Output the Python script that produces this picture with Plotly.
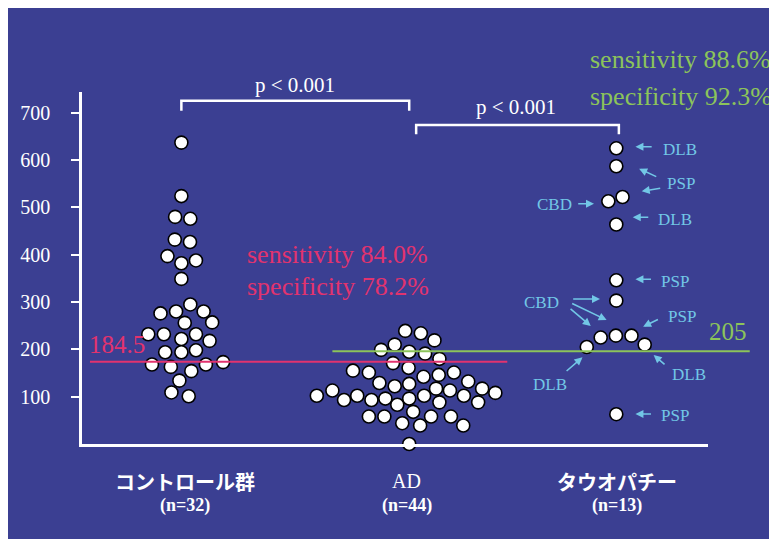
import plotly.graph_objects as go

# ---------------- data ----------------
group_names = ["コントロール群", "AD", "タウオパチー"]
group_n = ["(n=32)", "(n=44)", "(n=13)"]
group_centers = [1.0, 3.293, 5.377]

control_values = [637, 524, 480, 476, 432, 427, 397, 382, 388, 349, 295, 276, 280, 280,
                  256, 257, 232, 232, 232, 222, 218, 194, 194, 198, 168, 163, 168, 173,
                  154, 134, 109, 101]
control_jitter = [0, 0, -0.063, 0.09, -0.066, 0.087, -0.14, 0, 0.147, 0, 0.09, -0.21, -0.053,
                  0.224, 0.034, 0.31, -0.333, -0.176, 0.147, 0, 0.284, -0.163, 0, 0.147,
                  -0.296, -0.106, 0.247, 0.42, 0.10, -0.02, -0.10, 0.074]

ad_values = [239, 234, 219, 210, 199, 195, 191, 180, 171, 161, 155, 151, 151, 146, 142, 129,
             127, 132, 122, 117, 113, 117, 113, 108, 102, 102, 93, 93, 96, 96, 102, 102, 83,
             88, 88, 68, 58, 58, 58, 58, 44, 39, 39, 0]
ad_jitter = [-0.04, 0.117, 0.254, -0.146, -0.283, 0, 0.16, 0.304, -0.163, -0.006, -0.566,
             -0.406, 0.45, 0.297, 0.144, -0.30, 0, 0.594, -0.146, 0.27, 0.41, 0.734, -0.773,
             0.867, -0.93, -0.523, -0.656, -0.38, -0.24, 0, 0.15, 0.55, -0.12, 0.304, 0.694,
             0.04, -0.406, -0.25, 0.22, 0.42, -0.07, 0.11, 0.544, 0]

tau_values = [625, 587, 522, 513, 464, 346, 303, 225, 229, 229, 205, 210, 63]
tau_jitter = [0, 0, 0.063, -0.08, 0, 0, 0, -0.157, -0.004, 0.153, -0.297, 0.286, 0]

y_ticks = [100, 200, 300, 400, 500, 600, 700]
y_range = [0, 744]
x_range = [0, 6.3]

control_cutoff_label = "184.5"
control_cutoff_line = 174
tau_cutoff_label = "205"
tau_cutoff_line = 196

ad_stats = ["sensitivity 84.0%", "specificity 78.2%"]
tau_stats = ["sensitivity 88.6%", "specificity 92.3%"]
p_text = "p < 0.001"

# ---------------- styling / layout ----------------
OFF = 8                      # page (body) margin of the rendered html
W, H = 777 - OFF, 539 - OFF
PLOT_L, PLOT_R, PLOT_T, PLOT_B = 78, 708, 92, 444   # plot area in window pixels
L, R = PLOT_L - OFF, W - (PLOT_R - OFF)
T, B = PLOT_T - OFF, H - (PLOT_B - OFF)
BG = "#3B3F92"
PINK = "#E2336E"
GREEN = "#8CC45A"
CYAN = "#72C7E6"
SERIF = "Liberation Serif, Times New Roman, serif"
CJK = "Noto Sans CJK JP, sans-serif"
PAD = 3                      # annotation inner padding compensation

pw, ph = PLOT_R - PLOT_L, PLOT_B - PLOT_T


def px_x(x):
    return (x - PLOT_L) / pw


def px_y(y):
    return (PLOT_B - y) / ph


def pix(x, y):
    return dict(xref="paper", yref="paper", x=px_x(x), y=px_y(y))


def ypaper(v):
    return (v - y_range[0]) / (y_range[1] - y_range[0])


fig = go.Figure()

for vals, jit, c in [(control_values, control_jitter, group_centers[0]),
                     (ad_values, ad_jitter, group_centers[1]),
                     (tau_values, tau_jitter, group_centers[2])]:
    fig.add_trace(go.Scatter(
        x=[c + j for j in jit], y=vals, mode="markers", cliponaxis=False,
        marker=dict(size=13, color="white", line=dict(color="black", width=1.6)),
        hoverinfo="y", showlegend=False))

shapes = []
# cutoff lines
shapes.append(dict(type="line", xref="paper", yref="paper",
                   x0=px_x(86), x1=px_x(506),
                   y0=ypaper(control_cutoff_line), y1=ypaper(control_cutoff_line),
                   line=dict(color=PINK, width=2)))
shapes.append(dict(type="line", xref="paper", yref="paper",
                   x0=px_x(330), x1=px_x(750),
                   y0=ypaper(tau_cutoff_line), y1=ypaper(tau_cutoff_line),
                   line=dict(color=GREEN, width=2)))
# significance brackets
for xa, xb, ytop, ybot in [(group_centers[0], group_centers[1], 725.6, 704.5),
                           (group_centers[1] + 0.07, group_centers[2] + 0.026, 674, 654.6)]:
    shapes.append(dict(type="path", xref="x", yref="y",
                       path=f"M {xa},{ybot} L {xa},{ytop} L {xb},{ytop} L {xb},{ybot}",
                       line=dict(color="white", width=2.5)))

ann = []


def text(x, y, s, color, size, font=SERIF, xanchor="center"):
    if xanchor == "left":
        x -= PAD
    d = pix(x, y)
    d.update(text=s, showarrow=False, xanchor=xanchor, yanchor="middle",
             font=dict(family=font, size=size, color=color))
    ann.append(d)


text(292, 85, p_text, "white", 21)
text(515, 107, p_text, "white", 21)
text(86, 344, control_cutoff_label, PINK, 25, xanchor="left")
text(245, 254, ad_stats[0], PINK, 26, xanchor="left")
text(245, 286, ad_stats[1], PINK, 26, xanchor="left")
text(590, 59, tau_stats[0], GREEN, 26, xanchor="left")
text(590, 97, tau_stats[1], GREEN, 26, xanchor="left")
text(710, 331, tau_cutoff_label, GREEN, 25, xanchor="left")

cat_px = [182, 405, 616]
for i, (nm, n) in enumerate(zip(group_names, group_n)):
    if nm == "AD":
        text(cat_px[i], 481, nm, "white", 20)
    else:
        text(cat_px[i], 481, f"<b>{nm}</b>", "white", 20, font=CJK)
    text(cat_px[i], 505, f"<b>{n}</b>", "white", 18)

# subtype labels for tauopathy points
sub_labels = [("DLB", 680, 149), ("PSP", 681, 183), ("CBD", 554, 204), ("DLB", 675, 219),
              ("PSP", 675, 281), ("CBD", 540, 302), ("PSP", 682, 316), ("DLB", 549, 384),
              ("DLB", 689, 374), ("PSP", 675, 415)]
for s, x, y in sub_labels:
    text(x, y, s, CYAN, 17)

arrows = [((652.7, 146.7), (635, 146.7)), ((657.3, 177.3), (638.7, 168.7)),
          ((661.3, 188), (641.3, 191.3)), ((576, 203.7), (593.3, 203.7)),
          ((649.3, 217.3), (632.3, 217.3)), ((652, 279.3), (635, 279.3)),
          ((571, 299), (599.3, 299)), ((570, 302.7), (606, 320)),
          ((568.3, 307.7), (590, 326)), ((659, 318.7), (642.7, 326.7)),
          ((564.3, 372.3), (581.7, 357.3)), ((665.7, 365.7), (653.3, 355)),
          ((652, 414), (635, 414))]
for (tx, ty), (hx, hy) in arrows:
    d = pix(hx, hy)
    d.update(text="", showarrow=True, ax=tx - hx, ay=ty - hy, arrowhead=2, arrowsize=1,
             arrowwidth=1.6, arrowcolor=CYAN, standoff=0, startstandoff=0)
    ann.append(d)

fig.update_layout(
    width=W, height=H, margin=dict(l=L, r=R, t=T, b=B, pad=0),
    paper_bgcolor=BG, plot_bgcolor=BG,
    shapes=shapes, annotations=ann, showlegend=False,
    xaxis=dict(range=x_range, showline=True, linecolor="white", linewidth=2.5,
               showgrid=False, zeroline=False, showticklabels=False, ticks=""),
    yaxis=dict(range=y_range, showline=True, linecolor="white", linewidth=2.5,
               showgrid=False, zeroline=False, tickvals=y_ticks, ticks="outside",
               ticklen=8, tickwidth=2, tickcolor="white", ticklabelstandoff=17,
               tickfont=dict(family=SERIF, size=20, color="white")),
)

# hide the page scrollbar caused by the body's default bottom margin
fig.write_html("out.html",
               post_script="document.documentElement.style.overflow='hidden';"
                           "document.body.style.overflow='hidden';")
